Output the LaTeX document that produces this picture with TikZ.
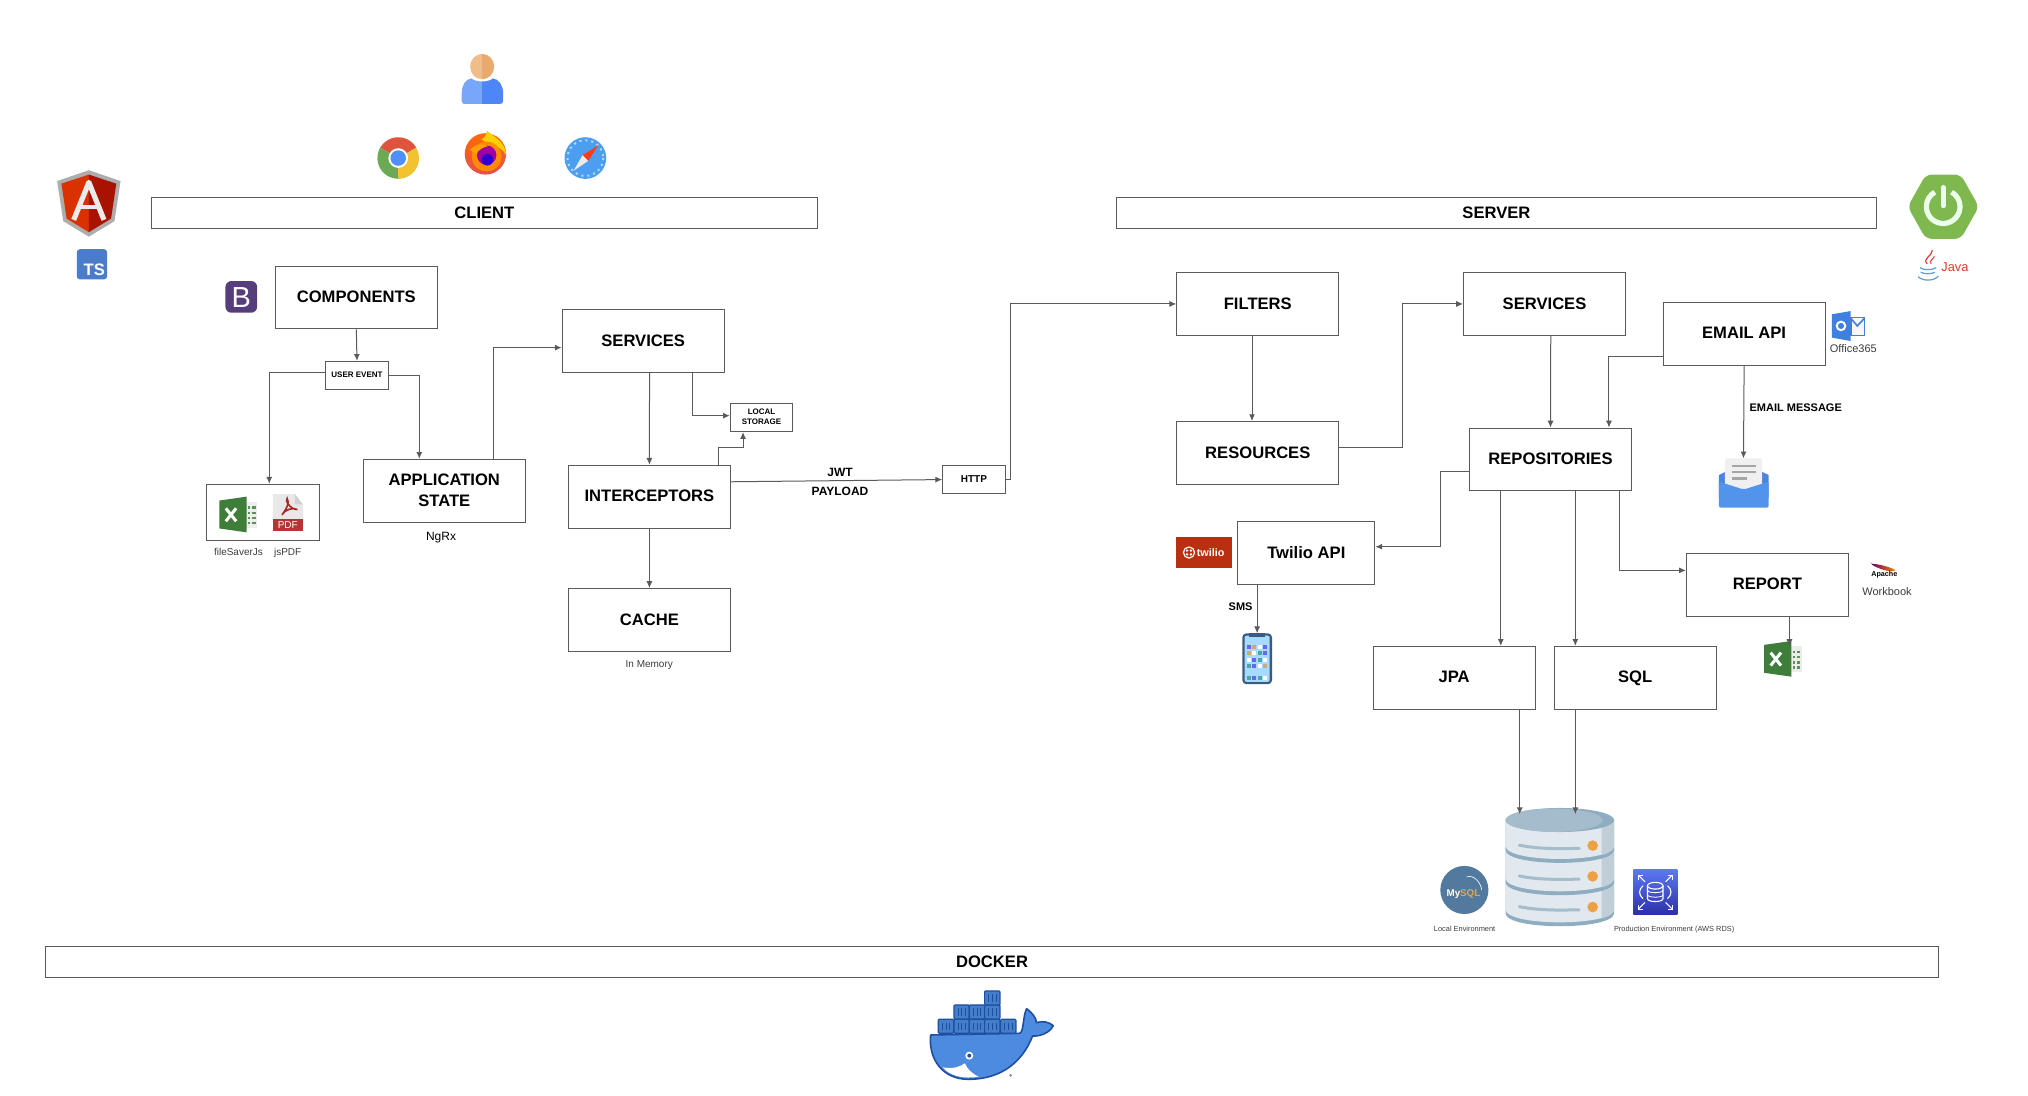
\documentclass[tikz,border=0pt]{standalone}
\usepackage{fontspec}
\setmainfont{Liberation Sans}
\usetikzlibrary{arrows.meta,calc}

\def\unitpx{0.6467pt}

\definecolor{boxline}{HTML}{5A5A5A}
\definecolor{capgray}{HTML}{3C3C3C}
\definecolor{dbrim}{HTML}{8FADC0}
\definecolor{dbtop}{HTML}{A4BCCB}
\definecolor{dbbody}{HTML}{E1E8EE}
\definecolor{dbside}{HTML}{C0CED8}
\definecolor{dbdot}{HTML}{EDA145}
\definecolor{dockerblue}{HTML}{4C8BE0}
\definecolor{dockerdark}{HTML}{1F4FA0}
\definecolor{xlgreen}{HTML}{3F7D3A}
\definecolor{phoneblue}{HTML}{3D5A80}
\definecolor{chromered}{HTML}{E0533D}
\definecolor{chromegreen}{HTML}{6AAA52}
\definecolor{chromeyellow}{HTML}{F2C231}
\definecolor{chromeblue}{HTML}{4F8FF7}
\definecolor{safariblue}{HTML}{4C9FF0}
\definecolor{tsblue}{HTML}{4A7CC9}
\definecolor{bspurple}{HTML}{563D7C}
\definecolor{springgreen}{HTML}{7EB84F}
\definecolor{outlookblue}{HTML}{3F7FE0}
\definecolor{mailback}{HTML}{4A84DC}
\definecolor{mailfront}{HTML}{5294EC}
\definecolor{twiliored}{HTML}{B8300F}
\definecolor{mysqlblue}{HTML}{527A9F}
\definecolor{rdstop}{HTML}{5B78F0}
\definecolor{rdsbottom}{HTML}{2E30A8}
\definecolor{javablue}{HTML}{5F9BD5}
\definecolor{javared}{HTML}{E03A2E}
\definecolor{headlight}{HTML}{F0BC8A}
\definecolor{headdark}{HTML}{E8AA6E}
\definecolor{bodylight}{HTML}{78A6F8}
\definecolor{bodydark}{HTML}{4F86F7}

\tikzset{
  boxnode/.style={draw=boxline,line width=.5pt,inner sep=0,align=center,text depth=.7pt,minimum width=125.3*\unitpx,minimum height=48.5*\unitpx,font=\fontsize{8.3}{10.3}\selectfont\bfseries},
  barnode/.style={boxnode,minimum height=24*\unitpx},
  smallnode/.style={boxnode,minimum width=48.3*\unitpx,minimum height=21.8*\unitpx,font=\fontsize{4}{4.7}\selectfont\bfseries},
  capnode/.style={inner sep=0,text=capgray,text height=3.7pt,text depth=1pt,font=\fontsize{5}{6}\selectfont},
  tagnode/.style={inner sep=0,align=center,font=\fontsize{5.5}{6.5}\selectfont\bfseries},
  link/.style={draw=boxline,line width=.5pt,-{Latex[length=3.4pt,width=3pt]}},
  xlicon/.pic={
    \fill [black!7] (13,4) rectangle (29,24);
    \foreach \rowy in {7.5,11.5,15.5,19.5} {
      \fill [xlgreen!85] (22,\rowy) rectangle (24,\rowy+2);
      \fill [xlgreen!85] (25,\rowy) rectangle (28,\rowy+2);
    }
    \fill [xlgreen] (0,3) -- (21,0) -- (21,27.6) -- (0,24.6) -- cycle;
    \draw [white,line width=1.5pt] (5,9) -- (13,19) (13,9) -- (5,19);
  }
}

\begin{document}
\begin{tikzpicture}[x=\unitpx,y=-\unitpx]

\useasboundingbox (0,0) rectangle (1568,847.4);

% people and browsers
\fill [headlight] (372.8,41.7) arc[start angle=-90,end angle=-270,x radius=9.3,y radius=9.8] -- cycle;
\fill [headdark] (372.8,41.7) arc[start angle=-90,end angle=90,x radius=9.3,y radius=9.8] -- cycle;
\fill [bodylight] (372.8,63) .. controls (369,63) and (366,62) .. (364.5,60.6) .. controls (360,61) and (357,66) .. (357,72) -- (357,78) .. controls (357,80) and (358,80.4) .. (360,80.4) -- (372.8,80.4) -- cycle;
\fill [bodydark] (372.8,63) .. controls (376.6,63) and (379.6,62) .. (381.1,60.6) .. controls (385.6,61) and (389,66) .. (389,72) -- (389,78) .. controls (389,80) and (388,80.4) .. (386,80.4) -- (372.8,80.4) -- cycle;

\begin{scope}[shift={(307.9,122.2)}]
\fill [chromered] (0,0) -- (-30:16.1) arc[start angle=-30,end angle=-150,radius=16.1] -- cycle;
\fill [chromegreen] (0,0) -- (-150:16.1) arc[start angle=-150,end angle=-270,radius=16.1] -- cycle;
\fill [chromeyellow] (0,0) -- (-270:16.1) arc[start angle=-270,end angle=-390,radius=16.1] -- cycle;
\fill [white] (0,0) circle[radius=7.6];
\fill [chromeblue] (0,0) circle[radius=6];
\end{scope}

\begin{scope}[shift={(375.3,119)}]
\shade [top color=orange!85!red,bottom color=red!55!pink!90!black] (0,0) circle[radius=16];
\fill [yellow!70!orange] (-3,-11) .. controls (0,-13) and (1,-15) .. (1,-18) .. controls (9,-12) and (15.5,-8) .. (16,1) .. controls (14,-3) and (10,-6) .. (6,-6) -- cycle;
\fill [orange!90!yellow] (1,2) circle[radius=11.5];
\fill [violet!75!magenta] (1,1) circle[radius=7.5];
\fill [blue!65!violet] (1.5,4.5) circle[radius=4.5];
\fill [orange!75!yellow] (-12,-3) .. controls (-8,-8) and (-2,-8) .. (2,-6) .. controls (-3,-5) and (-6,-2) .. (-7,0) -- cycle;
\end{scope}

\begin{scope}[shift={(452.6,122.2)}]
\fill [safariblue] (0,0) circle[radius=16.1];
\draw [white!60!safariblue,line width=1pt,dotted] (0,0) circle[radius=13.8];
\fill [red!70!orange!90!white] (9.9,-9.9) -- (-2.2,-2.2) -- (2.2,2.2) -- cycle;
\fill [black!8] (-9.1,9.8) -- (-2.2,-2.2) -- (2.2,2.2) -- cycle;
\end{scope}

% angular and typescript
\fill [black!32] (68.7,131.6) -- (93.2,140) -- (88.5,171) -- (68.7,183) -- (48.9,171) -- (44.2,140) -- cycle;
\fill [red!55!orange!85!black] (68.7,135) -- (47.5,142) -- (51.5,169) -- (68.7,179.5) -- cycle;
\fill [red!60!black!85!orange] (68.7,135) -- (89.9,142) -- (85.9,169) -- (68.7,179.5) -- cycle;
\draw [black!8,line width=2.6pt,line join=round] (57,170) -- (68.7,141) -- (80.4,170);
\draw [black!8,line width=2.3pt] (61,160) -- (76.4,160);

\fill [tsblue,rounded corners=1.5] (59.4,192.7) rectangle (82.8,216);
\node [inner sep=0,text=white,font=\fontsize{8.3}{10}\selectfont\bfseries] (tslogo) at (72.9,208.8) {TS};

\fill [bspurple,rounded corners=3] (174.3,217.3) rectangle (198.8,241.8);
\node [inner sep=0,text=white,font=\fontsize{14.5}{16}\selectfont] (bslogo) at (186.5,229.7) {B};

% client boxes
\node [barnode,minimum width=515*\unitpx] (client) at (374.5,165) {CLIENT};
\node [boxnode] (components) at (275.5,230) {COMPONENTS};
\node [smallnode] (userevent) at (276,290.3) {USER EVENT};
\node [boxnode,minimum width=87.2*\unitpx,minimum height=43.6*\unitpx] (exports) at (203.6,396.2) {};
\node [boxnode] (appstate) at (343.5,379.4) {APPLICATION\\STATE};
\node [boxnode] (services) at (497.3,263.8) {SERVICES};
\node [boxnode] (interceptors) at (502.1,384) {INTERCEPTORS};
\node [boxnode] (cache) at (502.1,479.3) {CACHE};
\node [smallnode] (localstorage) at (588.8,322.8) {LOCAL\\STORAGE};
\node [smallnode,font=\fontsize{5}{6}\selectfont\bfseries] (http) at (753,370.8) {HTTP};

\pic at (169.6,384) {xlicon};

\fill [black!9] (211,382) -- (228,382) -- (234.1,390) -- (234.1,402) -- (211,402) -- cycle;
\fill [black!18] (228,382) -- (234.1,390) -- (228,390) -- cycle;
\draw [red!60!black!85!white,line width=.8pt] (218,398) .. controls (222,393) and (224,388) .. (222,385.5) .. controls (220,386) and (224,394) .. (230,394) .. controls (227,392) and (220,394) .. (218,398);
\fill [red!65!black!80!white] (211,401.5) rectangle (234.1,410.6);
\node [inner sep=0,text=white,font=\fontsize{5}{6}\selectfont] (pdflabel) at (222.5,406) {PDF};

\node [capnode] (filesaver) at (184.4,427.6) {fileSaverJs};
\node [capnode] (jspdf) at (222.4,427.6) {jsPDF};
\node [capnode,text=black,text height=4.4pt,text depth=1.3pt,font=\fontsize{6}{7}\selectfont] (ngrx) at (341,415.5) {NgRx};
\node [capnode] (inmemory) at (502,514.3) {In Memory};
\node [tagnode,font=\fontsize{6}{7}\selectfont\bfseries] (jwt) at (649.5,365) {JWT};
\node [tagnode,font=\fontsize{6}{7}\selectfont\bfseries] (payload) at (649.5,379.6) {PAYLOAD};

% client links
\coordinate (evleft) at (208.2,287.9);
\coordinate (evright) at (324.2,290.2);
\coordinate (stateup) at (381.8,268.8);
\coordinate (svcright) at (535.8,321.4);
\coordinate (icpup) at (555.2,345.9);
\coordinate (icpright) at (574.5,345.9);

\draw [link] (components.south) -- (userevent.north);
\draw [link] (userevent.west |- evleft) -- (evleft) -- (evleft |- exports.north);
\draw [link] (userevent.east |- evright) -- (evright) -- (evright |- appstate.north);
\draw [link] (stateup |- appstate.north) -- (stateup) -- (services.west |- stateup);
\draw [link] (502.2,0 |- services.south) -- (interceptors.north);
\draw [link] (svcright |- services.south) -- (svcright) -- (localstorage.west |- svcright);
\draw [link] (icpup |- interceptors.north) -- (icpup) -- (icpright) -- (icpright |- localstorage.south);
\draw [link] (interceptors.south) -- (cache.north);
\draw [link] (interceptors.east) ++(0,-11.5) -- (http.west);

% server boxes
\node [barnode,minimum width=588*\unitpx] (server) at (1157,165) {SERVER};
\node [boxnode] (filters) at (972.5,235) {FILTERS};
\node [boxnode] (resources) at (972.5,350.2) {RESOURCES};
\node [boxnode] (backservices) at (1194.2,235) {SERVICES};
\node [boxnode] (emailapi) at (1348.5,258.1) {EMAIL API};
\node [boxnode] (repositories) at (1198.8,355.2) {REPOSITORIES};
\node [boxnode,minimum width=106*\unitpx,font=\fontsize{8.3}{10}\selectfont\bfseries] (twilioapi) at (1010,427.7) {Twilio API};
\node [boxnode] (report) at (1366.5,452.2) {REPORT};
\node [boxnode] (jpa) at (1124.3,524) {JPA};
\node [boxnode] (sql) at (1264.2,524) {SQL};

\node [capnode,font=\fontsize{5.5}{6.5}\selectfont] (office) at (1432.9,270.6) {Office365};
\node [capnode,font=\fontsize{5.5}{6.5}\selectfont] (workbook) at (1459,458.6) {Workbook};
\node [tagnode] (emailmsg) at (1388.4,315.5) {EMAIL MESSAGE};
\node [tagnode] (sms) at (959.2,469) {SMS};
\node [capnode,text height=2.8pt,text depth=.8pt,font=\fontsize{3.7}{4.5}\selectfont] (localenv) at (1132.4,718.8) {Local Environment};
\node [capnode,text height=2.8pt,text depth=.8pt,font=\fontsize{3.7}{4.5}\selectfont] (prodenv) at (1294.4,718.8) {Production Environment (AWS RDS)};

% spring and java
\fill [springgreen,rounded corners=3] (1475,159.8) -- (1489,135) -- (1516,135) -- (1530,159.8) -- (1516,184.7) -- (1489,184.7) -- cycle;
\draw [white!92!green,line width=2.6pt] (1502.4,159.8) ++(-60:13) arc[start angle=-60,end angle=240,radius=13];
\draw [white!92!green,line width=2.6pt,line cap=round] (1502.4,145) -- (1502.4,159);

\draw [javared,line width=.6pt] (1490,204) .. controls (1486,200) and (1494,198) .. (1494,193.5);
\draw [javared,line width=.5pt] (1493,204) .. controls (1491,201) and (1496,200) .. (1495.5,198);
\draw [javablue,line width=.6pt] (1484.5,207) .. controls (1487,209) and (1494,209) .. (1497,207);
\draw [javablue,line width=.6pt] (1485,210.5) .. controls (1488,212) and (1493,212) .. (1496,210.5);
\draw [javablue,line width=.6pt] (1483,214) .. controls (1487,217.5) and (1495,217.5) .. (1498.7,213.5);
\node [inner sep=0,text=javared,font=\fontsize{6.4}{8}\selectfont] (javatext) at (1511.5,206.2) {Java};

% outlook
\fill [outlookblue] (1416.4,243) -- (1430.9,240.5) -- (1430.9,263.7) -- (1416.4,261) -- cycle;
\draw [white,line width=1pt] (1423.4,252) circle[radius=3.3];
\draw [outlookblue,line width=.8pt,fill=black!3] (1430.9,245.6) rectangle (1441.6,259.3);
\draw [outlookblue,line width=.8pt] (1430.9,246) -- (1436,252) -- (1441.6,246);

% mail message
\fill [mailback] (1329,367.3) -- (1348.2,358) -- (1367.5,367.3) -- (1367.5,385) -- (1329,385) -- cycle;
\fill [black!6,rounded corners=1] (1333.7,354.4) rectangle (1362.5,378.9);
\draw [black!35,line width=1.1pt] (1338.9,360) -- (1357.7,360) (1338.9,365.2) -- (1357.7,365.2) (1338.9,369.9) -- (1350.4,369.9);
\fill [mailfront,rounded corners=1] (1329,372.4) -- (1348.2,378.5) -- (1367.5,372.4) -- (1367.5,392.5) -- (1329,392.5) -- cycle;

% twilio and phone
\fill [twiliored] (909.2,415.4) rectangle (952.3,439.4);
\draw [white,line width=.6pt] (919.3,427.2) circle[radius=4.3];
\foreach \dotx/\doty in {-1.5/-1.5,1.5/-1.5,-1.5/1.5,1.5/1.5}
  \fill [white] (919.3+\dotx,427.2+\doty) circle[radius=1];
\node [inner sep=0,text=white,font=\fontsize{5.4}{6.5}\selectfont\bfseries] (twiliologo) at (936,427) {twilio};

\fill [phoneblue,rounded corners=2] (960.5,489.7) rectangle (983.5,529);
\fill [blue!40!cyan!35!white,rounded corners=1] (962.3,491.5) rectangle (981.7,527.2);
\fill [phoneblue] (966,489.7) rectangle (978,492.5);
\foreach \appx/\appy/\appcol in {965.7/500.5/blue!60!white,969.8/500.5/brown!70!white,974/500.5/white,978.1/500.5/blue!60!white,
    965.7/505.1/brown!70!white,969.8/505.1/white,974/505.1/teal!70!white,978.1/505.1/blue!60!white,
    965.7/510/white,969.8/510/blue!60!white,974/510/teal!70!white,978.1/510/white,
    965.7/514.7/teal!70!white,969.8/514.7/blue!60!white,974/514.7/white,978.1/514.7/brown!70!white,
    965.7/524/teal!70!white,969.8/524/blue!60!white,974/524/teal!70!white,978.1/524/white}
  \fill [\appcol] (\appx-1.5,\appy-1.5) rectangle (\appx+1.5,\appy+1.5);

% report icons
\pic at (1364,495.6) {xlicon};

\shade [left color=violet!80!black,right color=orange,rounded corners=1] (1446.3,436) .. controls (1452,436) and (1460,438) .. (1466,441) .. controls (1460,442.5) and (1452,439.5) .. (1446.3,436) -- cycle;
\node [inner sep=0,font=\fontsize{3.6}{4.5}\selectfont\bfseries] (apachetext) at (1456.9,444.3) {Apache};

% database
\foreach \secy/\secb in {680/706,655/682,634/657} {
  \fill [dbrim] (1164,\secy) -- (1164,\secb) .. controls (1164,\secb+13.5) and (1248,\secb+13.5) .. (1248,\secb) -- (1248,\secy) -- cycle;
  \fill [dbbody] (1164,\secy) -- (1164,\secb-3) .. controls (1164,\secb+10.5) and (1248,\secb+10.5) .. (1248,\secb-3) -- (1248,\secy) -- cycle;
  \fill [dbside] (1238.4,\secy) -- (1248,\secy) -- (1248,\secb-3) .. controls (1247,\secb+1) and (1243,\secb+3) .. (1238.4,\secb+4) -- cycle;
}
\fill [dbrim] (1206,634) ellipse[x radius=42,y radius=9.3];
\fill [dbtop] (1201.5,634.2) ellipse[x radius=37.5,y radius=9];
\foreach \sloty/\doty in {653.5/653.8,677.3/677.6,701/701.3} {
  \draw [dbtop,line width=1.5pt,line cap=round] (1174.7,\sloty) .. controls (1190,\sloty+3) and (1205,\sloty+2.8) .. (1221,\sloty+2.4);
  \fill [dbdot] (1231.4,\doty) circle[radius=4.1];
}

% mysql and rds
\fill [mysqlblue] (1132.2,688.1) circle[radius=18.6];
\draw [white,line width=.3pt] (1134,678) .. controls (1140,676) and (1145,683) .. (1145.6,688);
\node [inner sep=0,text=white,font=\fontsize{4.9}{6}\selectfont\bfseries] (mysqllogo) at (1131.5,691.2) {My\textcolor{dbdot}{SQL}};

\shade [top color=rdstop,bottom color=rdsbottom] (1262.8,672.6) rectangle (1296.8,706.9);
\begin{scope}[shift={(1279.8,689.8)}]
\draw [white,line width=.55pt] (-6,-5) -- (-6,5) .. controls (-6,8) and (6,8) .. (6,5) -- (6,-5);
\draw [white,line width=.55pt] (0,-5) ellipse[x radius=6,y radius=2.6];
\draw [white,line width=.4pt] (-6,-1.5) .. controls (-6,1) and (6,1) .. (6,-1.5) (-6,2) .. controls (-6,4.5) and (6,4.5) .. (6,2);
\draw [white,line width=.55pt] (-9.5,-5) .. controls (-13,-2) and (-13,2) .. (-9.5,5);
\draw [white,line width=.55pt] (9.5,-5) .. controls (13,-2) and (13,2) .. (9.5,5);
\foreach \sgnx/\sgny in {1/1,1/-1,-1/1,-1/-1}
  \draw [white,line width=.55pt,-{Straight Barb[length=1.5pt,width=3pt]}] (\sgnx*8,\sgny*8) -- (\sgnx*13.5,\sgny*13.5);
\end{scope}

% server links
\coordinate (httpbend) at (781,235);
\coordinate (resbendlow) at (1084,346);
\coordinate (resbendtop) at (1084,235);
\coordinate (mailbend) at (1244,276);
\coordinate (repobend) at (1114,364.5);
\coordinate (twiliobend) at (1114,422.7);
\coordinate (reportbend) at (1252,441);
\coordinate (jpadrop) at (1160.4,0);
\coordinate (sqldrop) at (1218,0);
\coordinate (filterdrop) at (968,0);
\coordinate (smsdrop) at (972,0);
\coordinate (dbjpa) at (1175,629.5);
\coordinate (dbsql) at (1218,629.5);
\coordinate (mailtop) at (1348,354.4);
\coordinate (phonetop) at (972,489.6);
\coordinate (xltop) at (1383.5,499.5);

\draw [link] (http.east) -| (httpbend) -- (filters.west);
\draw [link] (filterdrop |- filters.south) -- (filterdrop |- resources.north);
\draw [link] (resources.east |- resbendlow) -- (resbendlow) -- (resbendtop) -- (backservices.west);
\draw [link] (1199,0 |- backservices.south) -- (repositories.north);
\draw [link] (emailapi.west |- mailbend) -- (mailbend) -- (mailbend |- repositories.north);
\draw [link] (emailapi.south) -- (mailtop);
\draw [link] (repositories.west |- repobend) -- (repobend) -- (twiliobend) -- (twilioapi.east |- twiliobend);
\draw [link] (smsdrop |- twilioapi.south) -- (phonetop);
\draw [link] (jpadrop |- repositories.south) -- (jpadrop |- jpa.north);
\draw [link] (sqldrop |- repositories.south) -- (sqldrop |- sql.north);
\draw [link] (reportbend |- repositories.south) -- (reportbend) -- (report.west |- reportbend);
\draw [link] (xltop |- report.south) -- (xltop);
\draw [link] (dbjpa |- jpa.south) -- (dbjpa);
\draw [link] (dbsql |- sql.south) -- (dbsql);

% docker
\node [barnode,minimum width=1464*\unitpx] (docker) at (767,744) {DOCKER};

\begin{scope}[shift={(695.8,757.7)},scale=.2577]
\draw [dockerdark,fill=dockerblue,line width=.8pt,line join=round] (92,165) -- (358,160) .. controls (372,160) and (368,110) .. (380,86) .. controls (398,100) and (408,112) .. (410,128) .. controls (428,122) and (448,126) .. (460,137) .. controls (450,158) and (420,170) .. (398,168) .. controls (370,240) and (310,298) .. (205,298) .. controls (130,298) and (85,240) .. (92,165) -- cycle;
\fill [white] (128,262) .. controls (160,268) and (180,260) .. (195,250) .. controls (200,265) and (215,280) .. (236,290) .. controls (190,298) and (150,288) .. (128,262) -- cycle;
\fill [white] (208,227) circle[radius=12];
\fill [dockerdark] (208,227) circle[radius=6];
\fill [dockerdark!70!white] (332,286) circle[radius=4];
\foreach \conx/\cony in {115/118,162/118,208/118,254/118,302/118,162/75,208/75,254/75,254/33} {
  \draw [dockerdark,fill=dockerblue!90!black,line width=.6pt,rounded corners=.5] (\conx,\cony) rectangle (\conx+46,\cony+42);
  \draw [dockerdark,line width=.35pt] (\conx+12,\cony+10) -- (\conx+12,\cony+32) (\conx+23,\cony+10) -- (\conx+23,\cony+32) (\conx+34,\cony+10) -- (\conx+34,\cony+32);
}
\end{scope}

\end{tikzpicture}
\end{document}
